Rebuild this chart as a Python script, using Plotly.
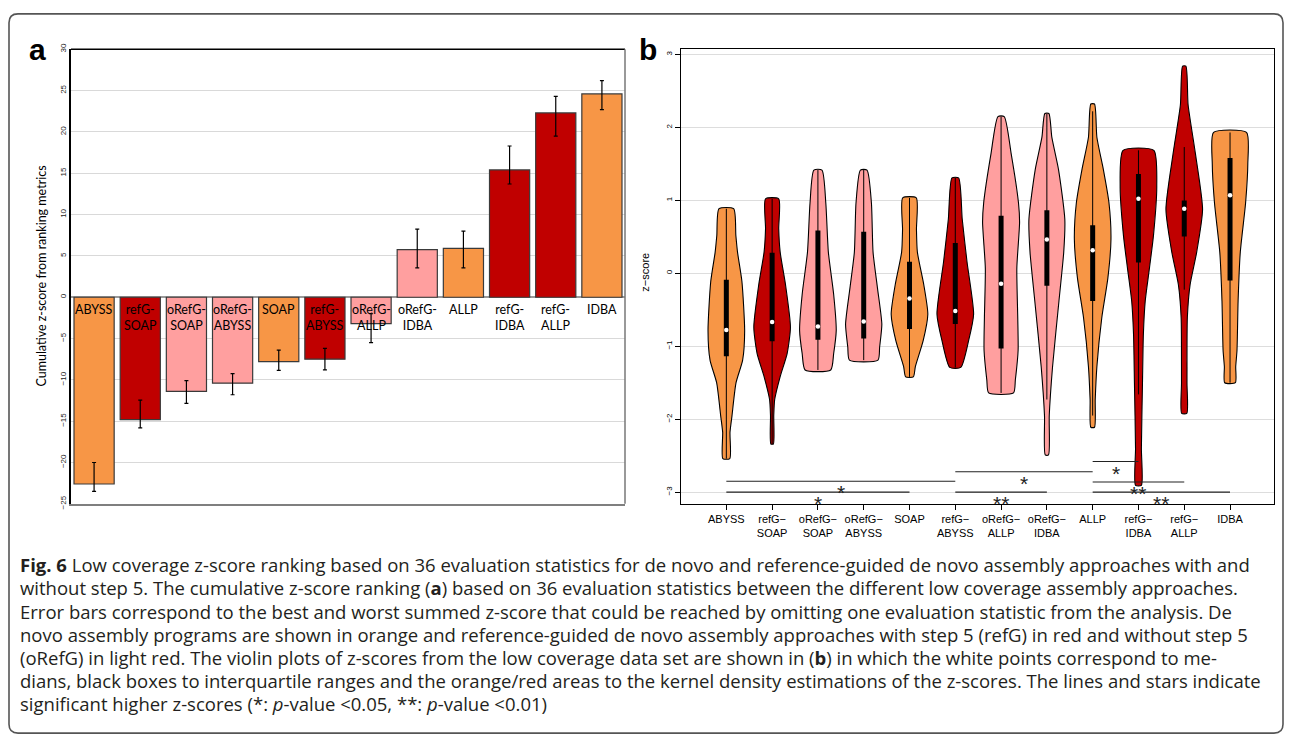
import plotly.graph_objects as go

W, H = 1290, 745

# ---------------- Panel a data ----------------
bar_names = ["ABYSS", "refG-SOAP", "oRefG-SOAP", "oRefG-ABYSS", "SOAP", "refG-ABYSS",
             "oRefG-ALLP", "oRefG-IDBA", "ALLP", "refG-IDBA", "refG-ALLP", "IDBA"]
bar_labels = ["ABYSS", "refG-<br>SOAP", "oRefG-<br>SOAP", "oRefG-<br>ABYSS", "SOAP", "refG-<br>ABYSS",
              "oRefG-<br>ALLP", "oRefG-<br>IDBA", "ALLP", "refG-<br>IDBA", "refG-<br>ALLP", "IDBA"]
bar_values = [-22.6, -14.8, -11.4, -10.4, -7.8, -7.5, -3.2, 5.75, 5.9, 15.4, 22.3, 24.6]
bar_err_high = [-20.0, -12.45, -10.1, -9.25, -6.4, -6.2, -2.0, 8.25, 8.0, 18.3, 24.3, 26.2]
bar_err_low = [-23.5, -15.8, -12.85, -11.8, -8.85, -8.8, -5.5, 3.55, 3.55, 13.7, 19.5, 22.7]
bar_groups = ["denovo", "refG", "oRefG", "oRefG", "denovo", "refG",
              "oRefG", "oRefG", "denovo", "refG", "refG", "denovo"]
a_ticks = [-25, -20, -15, -10, -5, 0, 5, 10, 15, 20, 25, 30]

# ---------------- Panel b data ----------------
vio_labels = ["ABYSS", "refG\u2212<br>SOAP", "oRefG\u2212<br>SOAP", "oRefG\u2212<br>ABYSS", "SOAP",
              "refG\u2212<br>ABYSS", "oRefG\u2212<br>ALLP", "oRefG\u2212<br>IDBA", "ALLP",
              "refG\u2212<br>IDBA", "refG\u2212<br>ALLP", "IDBA"]
# density outline: z levels and relative half-widths
vio_z = [
    [0.885, 0.517, 0.29, -0.11, -0.786, -1.19, -1.5, -1.95, -2.18, -2.54],
    [1.02, 0.61, 0.29, -0.156, -0.74, -1.1, -1.415, -1.73, -1.95, -2.34],
    [1.415, 0.966, 0.29, -0.29, -0.786, -1.1, -1.325],
    [1.415, 0.966, 0.29, -0.2, -0.7, -1.01, -1.19],
    [1.034, 0.6, 0.29, -0.157, -0.56, -0.92, -1.28, -1.42],
    [1.307, 0.74, 0.158, -0.56, -0.92, -1.29],
    [2.148, 1.64, 0.966, 0.70, 0.07, -0.61, -1.055, -1.46, -1.64],
    [2.19, 1.865, 1.415, 0.74, 0.29, -0.38, -1.28, -1.95, -2.49],
    [2.32, 1.865, 1.415, 0.966, 0.47, -0.067, -0.606, -1.28, -1.73, -2.11],
    [1.685, 1.19, 0.52, 0.07, -0.38, -0.83, -1.5, -2.4, -2.906],
    [2.84, 2.31, 1.64, 0.876, 0.29, -0.157, -0.606, -1.5, -1.92],
    [1.93, 1.5, 0.966, 0.29, -0.38, -1.055, -1.28, -1.50],
]
vio_dens = [
    [0.40, 0.52, 0.61, 0.85, 1.0, 0.89, 0.53, 0.31, 0.20, 0.19],
    [0.36, 0.36, 0.44, 0.73, 1.0, 0.82, 0.44, 0.14, 0.09, 0.07],
    [0.22, 0.43, 0.57, 0.86, 1.0, 0.86, 0.70],
    [0.18, 0.42, 0.51, 0.75, 0.99, 0.87, 0.78],
    [0.37, 0.38, 0.43, 0.78, 1.0, 0.75, 0.32, 0.21],
    [0.18, 0.38, 0.64, 1.0, 0.73, 0.30],
    [0.17, 0.55, 0.95, 1.01, 0.86, 0.91, 0.93, 0.78, 0.68],
    [0.11, 0.27, 0.64, 0.98, 0.92, 0.66, 0.31, 0.13, 0.09],
    [0.10, 0.23, 0.59, 0.89, 1.0, 0.83, 0.50, 0.23, 0.14, 0.10],
    [0.84, 1.0, 0.82, 0.60, 0.37, 0.27, 0.22, 0.16, 0.16],
    [0.09, 0.21, 0.61, 1.0, 0.68, 0.32, 0.17, 0.15, 0.14],
    [0.90, 0.97, 0.85, 0.56, 0.44, 0.38, 0.31, 0.29],
]
vio_median = [-0.776, -0.669, -0.73, -0.66, -0.345, -0.516, -0.143, 0.463, 0.315, 1.02, 0.885, 1.07]
vio_q1 = [-1.136, -0.93, -0.91, -0.894, -0.763, -0.696, -1.03, -0.17, -0.38, 0.148, 0.504, -0.098]
vio_q3 = [-0.09, 0.283, 0.585, 0.57, 0.158, 0.414, 0.787, 0.863, 0.66, 1.36, 0.997, 1.58]
vio_wlo = [-2.54, -2.34, -1.325, -1.19, -1.42, -1.29, -1.64, -1.73, -1.95, -1.66, -0.224, -1.50]
vio_whi = [0.885, 1.02, 1.415, 1.415, 1.034, 1.307, 2.148, 2.19, 2.22, 1.685, 1.73, 1.93]
b_ticks = [-3, -2, -1, 0, 1, 2, 3]

sig_start = [1, 1, 6, 6, 9, 9, 9]
sig_end = [6, 5, 9, 8, 10, 11, 12]
sig_level = [-2.85, -3.0, -2.72, -3.0, -2.58, -2.86, -3.0]
sig_label = ["*", "*", "*", "**", "*", "**", "**"]

caption_lines = [
    "<b>Fig. 6</b> Low coverage z-score ranking based on 36 evaluation statistics for de novo and reference-guided de novo assembly approaches with and",
    "without step 5. The cumulative z-score ranking (<b>a</b>) based on 36 evaluation statistics between the different low coverage assembly approaches.",
    "Error bars correspond to the best and worst summed z-score that could be reached by omitting one evaluation statistic from the analysis. De",
    "novo assembly programs are shown in orange and reference-guided de novo assembly approaches with step 5 (refG) in red and without step 5",
    "(oRefG) in light red. The violin plots of z-scores from the low coverage data set are shown in (<b>b</b>) in which the white points correspond to me-",
    "dians, black boxes to interquartile ranges and the orange/red areas to the kernel density estimations of the z-scores. The lines and stars indicate",
    "significant higher z-scores (*: <i>p</i>-value &lt;0.05, **: <i>p</i>-value &lt;0.01)",
]

# ---------------- styles ----------------
colors = {"denovo": "#F79646", "refG": "#C00000", "oRefG": "#FF9F9F"}
VIO_HALF = 0.40


def px(x):
    return x / W


def py(y):
    return 1 - y / H


fig = go.Figure()

# Panel a bars
fig.add_trace(go.Bar(
    x=bar_names, y=bar_values,
    marker=dict(color=[colors[g] for g in bar_groups], line=dict(color="#3a3a3a", width=1.2)),
    width=0.87,
    error_y=dict(type="data", symmetric=False,
                 array=[h - v for h, v in zip(bar_err_high, bar_values)],
                 arrayminus=[v - l for v, l in zip(bar_values, bar_err_low)],
                 color="black", thickness=1.2, width=2),
    xaxis="x", yaxis="y", showlegend=False, hoverinfo="x+y",
))

# Panel b violins
for i in range(len(vio_z)):
    p = i + 1
    zs, ds = vio_z[i], vio_dens[i]
    col = colors[bar_groups[i]]
    xs = [p + d * VIO_HALF for d in ds] + [p - d * VIO_HALF for d in ds[::-1]] + [p + ds[0] * VIO_HALF]
    ys = zs + zs[::-1] + [zs[0]]
    fig.add_trace(go.Scatter(x=xs, y=ys, mode="lines", fill="toself", fillcolor=col,
                             line=dict(color="black", width=1.1, shape="spline", smoothing=0.6),
                             xaxis="x2", yaxis="y2", showlegend=False, hoverinfo="skip"))
    fig.add_trace(go.Scatter(x=[p, p], y=[vio_wlo[i], vio_whi[i]], mode="lines",
                             line=dict(color="black", width=1), xaxis="x2", yaxis="y2",
                             showlegend=False, hoverinfo="skip"))
    fig.add_trace(go.Scatter(x=[p, p], y=[vio_q1[i], vio_q3[i]], mode="lines",
                             line=dict(color="black", width=5), xaxis="x2", yaxis="y2",
                             showlegend=False, hoverinfo="skip"))
    fig.add_trace(go.Scatter(x=[p], y=[vio_median[i]], mode="markers",
                             marker=dict(color="white", size=4.5), xaxis="x2", yaxis="y2",
                             showlegend=False, hoverinfo="skip"))

# significance lines
for s, e, lv, lab in zip(sig_start, sig_end, sig_level, sig_label):
    fig.add_trace(go.Scatter(x=[s, e], y=[lv, lv], mode="lines",
                             line=dict(color="#222222", width=1.1), xaxis="x2", yaxis="y2",
                             showlegend=False, hoverinfo="skip"))

annotations = []
for s, e, lv, lab in zip(sig_start, sig_end, sig_level, sig_label):
    annotations.append(dict(x=(s + e) / 2, y=lv, xref="x2", yref="y2", text=lab,
                            showarrow=False, xanchor="center", yanchor="top", yshift=2,
                            font=dict(family="Liberation Sans", size=21, color="#222222")))

# bar labels
for name, lab in zip(bar_names, bar_labels):
    annotations.append(dict(x=name, y=0, xref="x", yref="y", text=lab, showarrow=False,
                            xanchor="center", yanchor="top", yshift=-3,
                            font=dict(family="Lato", size=12.5, color="black")))

# panel letters
annotations.append(dict(x=px(37), y=py(44), xref="paper", yref="paper", text="<b>a</b>",
                        showarrow=False, xanchor="center", yanchor="middle",
                        font=dict(family="Liberation Sans", size=30, color="black")))
annotations.append(dict(x=px(648), y=py(44), xref="paper", yref="paper", text="<b>b</b>",
                        showarrow=False, xanchor="center", yanchor="middle",
                        font=dict(family="Liberation Sans", size=30, color="black")))
# axis titles
annotations.append(dict(x=px(42), y=py(275), xref="paper", yref="paper",
                        text="Cumulative z-score from ranking metrics", textangle=-90,
                        showarrow=False, xanchor="center", yanchor="middle",
                        font=dict(family="Lato", size=12.5, color="black")))
annotations.append(dict(x=px(645), y=py(271), xref="paper", yref="paper",
                        text="z\u2212score", textangle=-90,
                        showarrow=False, xanchor="center", yanchor="middle",
                        font=dict(family="Liberation Sans", size=11, color="black")))
# caption
for k, line in enumerate(caption_lines):
    annotations.append(dict(x=px(18), y=py(568 + 23.5 * k), xref="paper", yref="paper",
                            text=line, showarrow=False, xanchor="left", yanchor="middle",
                            font=dict(family="Open Sans", size=18.5, color="#231f20")))

# shapes: panel a top/right border, outer rounded frame
shapes = [
    dict(type="line", xref="x domain", yref="y domain", x0=0, x1=1, y0=1, y1=1,
         line=dict(color="black", width=1.5)),
    dict(type="line", xref="x domain", yref="y domain", x0=1, x1=1, y0=0, y1=1,
         line=dict(color="#777777", width=1.5)),
]
fx0, fx1, fy0, fy1, r = 9, 1283, 8, 739, 9
path = (f"M {px(fx0 + r)} {py(fy0)} L {px(fx1 - r)} {py(fy0)} Q {px(fx1)} {py(fy0)} {px(fx1)} {py(fy0 + r)} "
        f"L {px(fx1)} {py(fy1 - r)} Q {px(fx1)} {py(fy1)} {px(fx1 - r)} {py(fy1)} "
        f"L {px(fx0 + r)} {py(fy1)} Q {px(fx0)} {py(fy1)} {px(fx0)} {py(fy1 - r)} "
        f"L {px(fx0)} {py(fy0 + r)} Q {px(fx0)} {py(fy0)} {px(fx0 + r)} {py(fy0)} Z")
shapes.append(dict(type="path", xref="paper", yref="paper", path=path,
                   line=dict(color="#555555", width=1.6), layer="below"))

ydom = [py(506), py(44)]
fig.update_layout(
    width=W, height=H, margin=dict(l=0, r=0, t=0, b=0),
    paper_bgcolor="white", plot_bgcolor="white",
    bargap=0.13,
    xaxis=dict(domain=[px(71), px(625)], type="category", range=[-0.5, 11.5],
               showticklabels=False, ticks="", showgrid=False,
               showline=True, linecolor="#7f7f7f", linewidth=2, anchor="y", fixedrange=True),
    yaxis=dict(domain=ydom, range=[-25, 30], tickvals=a_ticks, tickangle=-90,
               tickfont=dict(family="Liberation Sans", size=8, color="#222222"),
               showgrid=True, gridcolor="#d9d9d9", gridwidth=1,
               zeroline=True, zerolinecolor="#9a9a9a", zerolinewidth=1.5,
               showline=True, linecolor="black", linewidth=2, ticks="", anchor="x"),
    xaxis2=dict(domain=[px(681), px(1274)], range=[0.01, 12.96], tickvals=list(range(1, 13)),
                ticktext=vio_labels, tickangle=0, ticks="outside", ticklen=5, tickcolor="black",
                tickfont=dict(family="Liberation Sans", size=11, color="black"),
                showgrid=False, zeroline=False, showline=True, mirror=True,
                linecolor="black", linewidth=1.3, anchor="y2"),
    yaxis2=dict(domain=ydom, range=[-3.16, 3.07], tickvals=b_ticks, tickangle=-90,
                ticks="outside", ticklen=5, tickcolor="black",
                tickfont=dict(family="Liberation Sans", size=8, color="black"),
                showgrid=True, gridcolor="#dddddd", gridwidth=1.2, zeroline=False,
                showline=True, mirror=True, linecolor="black", linewidth=1.3, anchor="x2"),
    annotations=annotations,
    shapes=shapes,
)

fig.write_html("out.html", config={"displayModeBar": False},
               post_script="document.body.style.margin='0';document.body.style.overflow='hidden';")
